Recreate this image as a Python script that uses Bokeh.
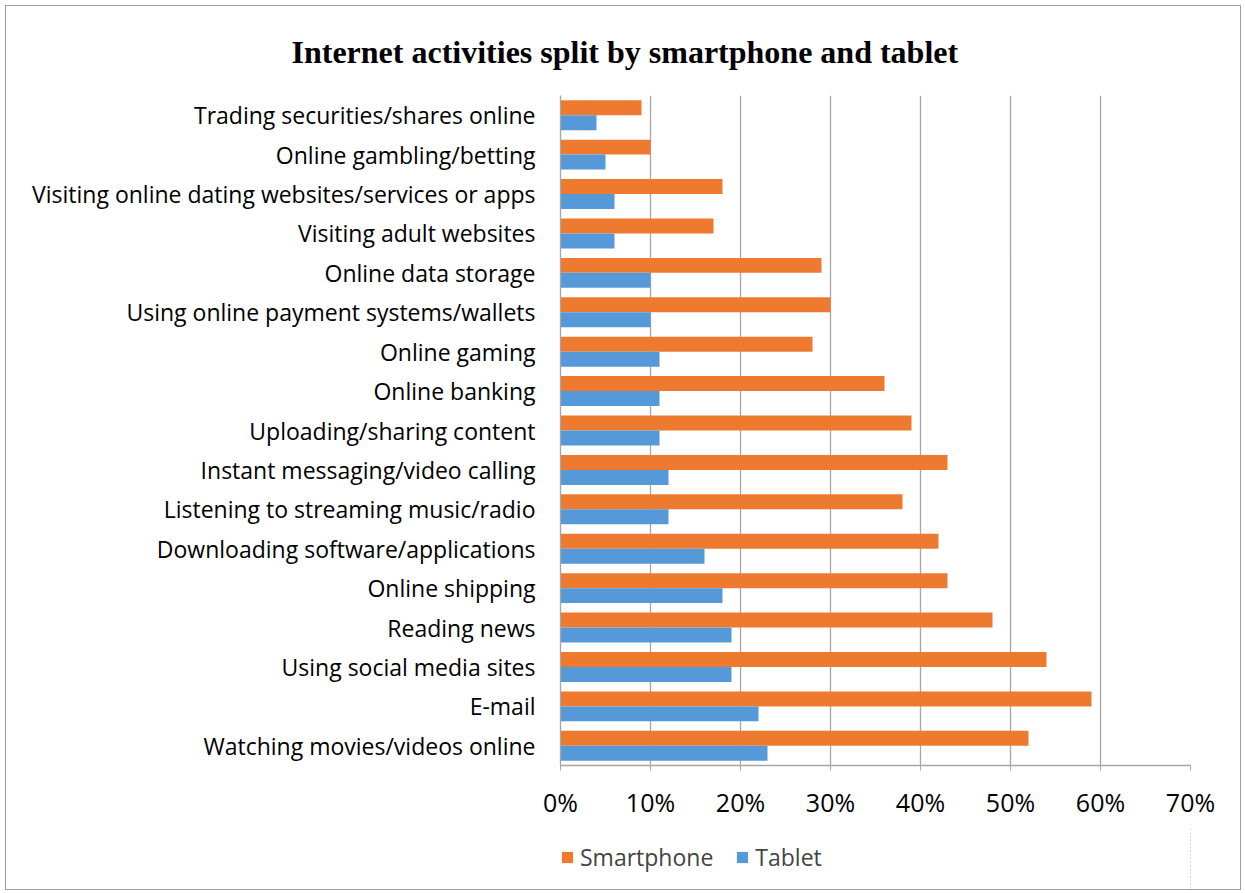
from bokeh.plotting import figure
from bokeh.layouts import column
from bokeh.models import (FactorRange, FixedTicker, PrintfTickFormatter, Title,
                          Legend, LegendItem, ColumnDataSource, Range1d)
from bokeh.transform import dodge
from bokeh.embed import file_html
from bokeh.resources import INLINE

title = "Internet activities split by smartphone and tablet"
categories = [
    "Trading securities/shares online",
    "Online gambling/betting",
    "Visiting online dating websites/services or apps",
    "Visiting adult websites",
    "Online data storage",
    "Using online payment systems/wallets",
    "Online gaming",
    "Online banking",
    "Uploading/sharing content",
    "Instant messaging/video calling",
    "Listening to streaming music/radio",
    "Downloading software/applications",
    "Online shipping",
    "Reading news",
    "Using social media sites",
    "E-mail",
    "Watching movies/videos online",
]
smartphone = [9, 10, 18, 17, 29, 30, 28, 36, 39, 43, 38, 42, 43, 48, 54, 59, 52]
tablet = [4, 5, 6, 6, 10, 10, 11, 11, 11, 12, 12, 16, 18, 19, 19, 22, 23]
x_ticks = [0, 10, 20, 30, 40, 50, 60, 70]
series_names = ["Smartphone", "Tablet"]
series_colors = ["#EE7A30", "#5699D8"]

src = ColumnDataSource(dict(cat=categories, smart=smartphone, tab=tablet))

p = figure(frame_width=630, frame_height=670, output_backend="svg", toolbar_location=None,
           y_range=FactorRange(*categories[::-1], range_padding=0),
           x_range=(0, 70),
           min_border_left=554, min_border_right=50, min_border_top=89,
           min_border_bottom=62, title=None)
p.outline_line_color = None
p.ygrid.grid_line_color = None
p.xgrid.grid_line_color = "#a6a6a6"
p.xgrid.grid_line_width = 1.3

r1 = p.hbar(y=dodge("cat", 0.19, range=p.y_range), right="smart", left=0, height=0.38,
            source=src, fill_color=series_colors[0], line_color=None)
r2 = p.hbar(y=dodge("cat", -0.19, range=p.y_range), right="tab", left=0, height=0.38,
            source=src, fill_color=series_colors[1], line_color=None)

p.xaxis.ticker = FixedTicker(ticks=x_ticks)
p.xaxis.formatter = PrintfTickFormatter(format="%d%%")
p.xaxis.axis_line_color = "#a6a6a6"
p.xaxis.axis_line_width = 1.3
p.xaxis.major_tick_line_color = "#a6a6a6"
p.xaxis.major_tick_out = 5
p.xaxis.major_tick_in = 0
p.xaxis.minor_tick_line_color = None
p.xaxis.major_label_standoff = 14
p.xaxis.major_label_text_font = "Open Sans"
p.xaxis.major_label_text_font_size = "25px"
p.xaxis.major_label_text_color = "#000000"

p.yaxis.axis_line_color = "#a6a6a6"
p.yaxis.axis_line_width = 1.3
p.yaxis.major_tick_line_color = None
p.yaxis.minor_tick_line_color = None
p.yaxis.major_label_standoff = 19
p.yaxis.major_label_text_font = "Open Sans"
p.yaxis.major_label_text_font_size = "23px"
p.yaxis.major_label_text_color = "#000000"

p.add_layout(Title(text=title, align="left", offset=-269, standoff=51,
                   text_font="Liberation Serif", text_font_style="bold",
                   text_font_size="32px", text_color="#000000"), "above")

# legend strip below the chart (same data source; bars lie outside its view)
p2 = figure(width=1234, height=62, output_backend="svg", toolbar_location=None,
            y_range=FactorRange(*categories[::-1]), x_range=Range1d(-200, -100),
            x_axis_type=None, y_axis_type=None, min_border=0, title=None)
p2.outline_line_color = None
p2.grid.grid_line_color = None
l1 = p2.hbar(y="cat", right="smart", left=0, height=0.38, source=src,
             fill_color=series_colors[0], line_color=None)
l2 = p2.hbar(y="cat", right="tab", left=0, height=0.38, source=src,
             fill_color=series_colors[1], line_color=None)
legend = Legend(items=[LegendItem(label=series_names[0], renderers=[l1]),
                       LegendItem(label=series_names[1], renderers=[l2])],
                location=(0, 16), orientation="horizontal",
                border_line_color=None, background_fill_alpha=0,
                label_text_font="Open Sans", label_text_font_size="23px",
                glyph_width=14, glyph_height=14, spacing=22, padding=0, margin=0,
                label_standoff=6)
p2.add_layout(legend, "center")

layout = column(p, p2, spacing=0, margin=(5, 0, 0, 5),
                styles={"border": "1px solid #a0a0a0"})

open("out.html", "w").write(file_html(layout, INLINE))
